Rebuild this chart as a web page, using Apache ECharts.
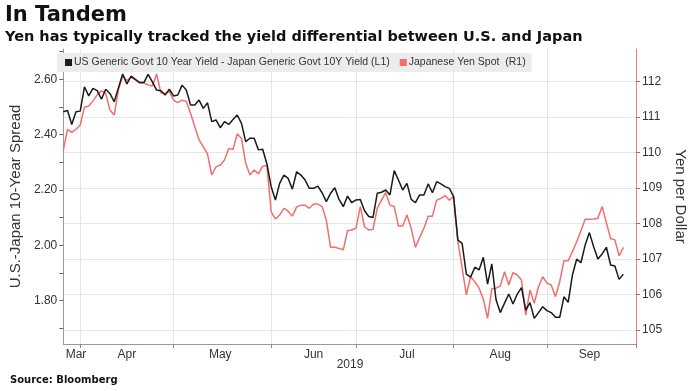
<!DOCTYPE html>
<html><head><meta charset="utf-8">
<script src="https://cdn.jsdelivr.net/npm/echarts@6/dist/echarts.min.js"></script>
<style>html,body{margin:0;padding:0;background:#fff}#c{width:696px;height:391px}</style>
</head><body><div id="c"></div>
<script>
// ---- data ----
const startDate = '2019-03-26';
const endDate = '2019-10-01';
const spreadName = 'US Generic Govt 10 Year Yield - Japan Generic Govt 10Y Yield (L1)';
const yenName = 'Japanese Yen Spot  (R1)';
const spreadValues = [
2.483, 2.487, 2.437, 2.483, 2.485, 2.573, 2.540, 2.567, 2.559, 2.528,
2.564, 2.549, 2.519, 2.569, 2.619, 2.583, 2.612, 2.600, 2.588, 2.588,
2.618, 2.591, 2.561, 2.559, 2.543, 2.564, 2.540, 2.543, 2.579, 2.561,
2.507, 2.507, 2.525, 2.495, 2.515, 2.447, 2.453, 2.425, 2.447, 2.437,
2.455, 2.471, 2.441, 2.375, 2.387, 2.387, 2.345, 2.347, 2.294, 2.212,
2.164, 2.224, 2.254, 2.242, 2.203, 2.266, 2.254, 2.236, 2.206, 2.206,
2.214, 2.190, 2.158, 2.188, 2.208, 2.166, 2.140, 2.178, 2.154, 2.164,
2.166, 2.125, 2.104, 2.101, 2.188, 2.192, 2.200, 2.182, 2.270, 2.236,
2.200, 2.224, 2.166, 2.154, 2.182, 2.182, 2.222, 2.190, 2.230, 2.222,
2.212, 2.206, 2.176, 2.019, 2.007, 1.896, 1.885, 1.921, 1.911, 1.957,
1.860, 1.933, 1.803, 1.757, 1.791, 1.824, 1.788, 1.824, 1.847, 1.766,
1.793, 1.736, 1.757, 1.778, 1.764, 1.757, 1.740, 1.740, 1.814, 1.794,
1.893, 1.950, 1.937, 2.001, 2.046, 1.995, 1.951, 1.969, 1.993, 1.929,
1.925, 1.877, 1.896
];
const yenValues = [
110.06, 110.66, 110.57, 110.66, 110.78, 111.29, 111.31, 111.46, 111.63, 111.74,
111.67, 111.20, 111.06, 111.77, 112.16, 112.03, 112.12, 112.05, 111.97, 111.96,
111.91, 111.88, 112.22, 111.69, 111.67, 111.72, 111.48, 111.41, 111.48, 111.44,
111.11, 110.73, 110.36, 110.17, 109.96, 109.37, 109.60, 109.65, 109.79, 110.12,
110.09, 110.53, 110.40, 109.70, 109.37, 109.51, 109.40, 109.62, 109.64, 108.33,
108.13, 108.24, 108.43, 108.35, 108.21, 108.47, 108.52, 108.52, 108.43, 108.55,
108.55, 108.48, 108.10, 107.33, 107.33, 107.30, 107.26, 107.80, 107.82, 107.87,
108.48, 107.91, 107.82, 107.84, 108.43, 108.66, 108.87, 108.52, 108.48, 107.93,
107.93, 108.24, 107.87, 107.33, 107.61, 107.87, 108.21, 108.21, 108.66, 108.71,
108.79, 108.66, 108.76, 107.49, 106.76, 105.99, 106.50, 106.36, 106.18, 105.87,
105.33, 106.16, 106.18, 106.24, 106.64, 106.27, 106.62, 106.55, 106.41, 105.42,
106.13, 105.75, 106.22, 106.50, 106.32, 106.27, 105.94, 106.36, 106.95, 106.95,
107.21, 107.49, 107.80, 108.12, 108.12, 108.13, 108.15, 108.48, 108.02, 107.58,
107.54, 107.09, 107.33
];
const monthLabelDates = ['2019-03-29','2019-04-16','2019-05-16','2019-06-17','2019-07-17','2019-08-16','2019-09-16'];
const monthLabelNames = ['Mar','Apr','May','Jun','Jul','Aug','Sep'];
const leftLabelValues = [1.8, 2.0, 2.2, 2.4, 2.6];
const leftTickValues = [1.7, 1.8, 1.9, 2.0, 2.1, 2.2, 2.3, 2.4, 2.5, 2.6, 2.7];
const rightTickValues = [105, 106, 107, 108, 109, 110, 111, 112];

// ---- business-day categories ----
function weekdays(s, e) {
  const out = [];
  const d = new Date(s + 'T00:00:00Z');
  const end = new Date(e + 'T00:00:00Z');
  while (d <= end) {
    const w = d.getUTCDay();
    if (w !== 0 && w !== 6) out.push(d.toISOString().slice(0, 10));
    d.setUTCDate(d.getUTCDate() + 1);
  }
  return out;
}
const dates = weekdays(startDate, endDate);
const isMonthStart = (i) => i > 0 && dates[i].slice(5, 7) !== dates[i - 1].slice(5, 7);

const FONT = 'Liberation Sans';
const chart = echarts.init(document.getElementById('c'), null, { renderer: 'canvas' });
chart.setOption({
  animation: false,
  backgroundColor: '#fff',
  textStyle: { fontFamily: FONT },
  grid: { left: 57, right: 52, top: 49, bottom: 47, containLabel: false },
  legend: {
    left: 57, top: 53,
    data: [spreadName, yenName],
    icon: 'rect', itemWidth: 7, itemHeight: 7, itemGap: 10,
    backgroundColor: '#ececec',
    padding: [4, 6, 4, 8],
    textStyle: { fontSize: 10.5, color: '#333', fontFamily: FONT, padding: [0, 0, 0, -3] }
  },
  xAxis: {
    type: 'category', data: dates, boundaryGap: false,
    axisLine: { lineStyle: { color: '#999' } },
    axisTick: { interval: (i) => isMonthStart(i), length: 4, lineStyle: { color: '#888' } },
    axisLabel: {
      interval: (i, v) => monthLabelDates.indexOf(v) >= 0,
      formatter: (v) => monthLabelNames[monthLabelDates.indexOf(v)],
      color: '#333', fontSize: 12, margin: 5, fontFamily: FONT
    },
    splitLine: { show: true, interval: (i) => isMonthStart(i), lineStyle: { color: '#e6e6e6' } }
  },
  yAxis: [
    {
      type: 'value', position: 'left', min: 1.6435, max: 2.7095,
      axisLine: { show: true, lineStyle: { color: '#999' } },
      axisTick: { show: true, customValues: leftTickValues, length: 4, lineStyle: { color: '#666' } },
      axisLabel: { customValues: leftLabelValues, formatter: (v) => v.toFixed(2), color: '#333', fontSize: 12, margin: 6, fontFamily: FONT },
      splitLine: { show: false },
      name: 'U.S.-Japan 10-Year Spread', nameLocation: 'middle', nameGap: 33,
      nameTextStyle: { fontSize: 15, color: '#333', fontFamily: FONT }
    },
    {
      type: 'value', position: 'right', min: 104.605, max: 112.922,
      axisLine: { show: true, lineStyle: { color: '#f08080' } },
      axisTick: { show: true, customValues: rightTickValues, length: 4, lineStyle: { color: '#777' } },
      axisLabel: { customValues: rightTickValues, color: '#333', fontSize: 12, margin: 6, fontFamily: FONT },
      splitLine: { show: true, lineStyle: { color: '#e6e6e6' } },
      name: 'Yen per Dollar', nameLocation: 'middle', nameGap: 31, nameRotate: -90,
      nameTextStyle: { fontSize: 15, color: '#333', fontFamily: FONT }
    }
  ],
  series: [
    {
      name: yenName, type: 'line', yAxisIndex: 1, data: yenValues,
      showSymbol: false, color: '#f26e6e', lineStyle: { width: 1.5, color: '#f26e6e' }
    },
    {
      name: spreadName, type: 'line', yAxisIndex: 0, data: spreadValues,
      showSymbol: false, color: '#1a1a1a', lineStyle: { width: 1.5, color: '#1a1a1a' }
    }
  ],
  graphic: [
    { type: 'text', left: 5, top: 5, style: { text: 'In Tandem', font: 'bold 21px "DejaVu Sans"', fill: '#111' } },
    { type: 'text', left: 5, top: 30, style: { text: 'Yen has typically tracked the yield differential between U.S. and Japan', font: 'bold 14.5px "DejaVu Sans"', fill: '#111' } },
    { type: 'text', left: 10, top: 375, style: { text: 'Source: Bloomberg', font: 'bold 10px "DejaVu Sans"', fill: '#111' } },
    { type: 'text', x: 350, y: 365, style: { text: '2019', font: '12px "Liberation Sans"', fill: '#333', align: 'center', verticalAlign: 'middle' } }
  ]
});
</script>
</body></html>
